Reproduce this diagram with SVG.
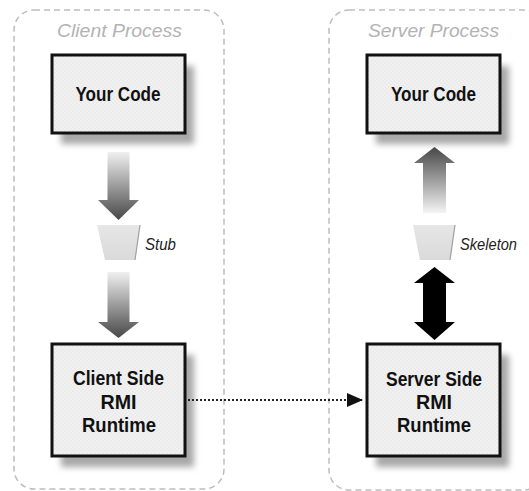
<svg xmlns="http://www.w3.org/2000/svg" width="529" height="491" viewBox="0 0 529 491">
  <style>
    .container { fill: none; stroke: #bdbdbd; stroke-width: 1.5; stroke-dasharray: 6 4; }
    .title { font-family: "Liberation Sans", Arial, sans-serif; font-style: italic; font-size: 19px; fill: #b3b3b3; text-anchor: middle; }
    .box { fill: url(#dots); stroke: #111; stroke-width: 3; }
    .shadow { fill: #a8a8a8; filter: url(#blur); }
    .label { font-family: "Liberation Sans", Arial, sans-serif; font-weight: bold; font-size: 21px; fill: #111; text-anchor: middle; }
    .small { font-family: "Liberation Sans", Arial, sans-serif; font-style: italic; font-size: 16px; fill: #222; }
    .trap { fill: url(#trapGrad); }
    .trapEdge { fill: none; stroke: #a0a0a0; stroke-width: 1.2; }
  </style>
  <defs>
    <pattern id="dots" width="4" height="4" patternUnits="userSpaceOnUse">
      <rect width="4" height="4" fill="#ebebeb"/>
      <circle cx="1" cy="1" r="0.8" fill="#fafafa"/>
      <circle cx="3" cy="3" r="0.8" fill="#fafafa"/>
    </pattern>
    <filter id="blur" x="-20%" y="-20%" width="140%" height="140%">
      <feGaussianBlur stdDeviation="3"/>
    </filter>
    <linearGradient id="downGrad" x1="0" y1="0" x2="0" y2="1">
      <stop offset="0" stop-color="#f0f0f0"/>
      <stop offset="1" stop-color="#474747"/>
    </linearGradient>
    <linearGradient id="upGrad" x1="0" y1="0" x2="0" y2="1">
      <stop offset="0" stop-color="#474747"/>
      <stop offset="1" stop-color="#f4f4f4"/>
    </linearGradient>
    <linearGradient id="trapGrad" x1="0" y1="0" x2="0" y2="1">
      <stop offset="0" stop-color="#e6e6e6"/>
      <stop offset="1" stop-color="#dadada"/>
    </linearGradient>
    <marker id="arrowHead" viewBox="0 0 16 14" refX="16" refY="7" markerWidth="16" markerHeight="14" markerUnits="userSpaceOnUse" orient="auto">
      <path d="M0,0 L16,7 L0,14 Z" fill="#111"/>
    </marker>
  </defs>

  <g id="client-process">
    <rect class="container" x="14" y="10" width="210" height="479" rx="20"/>
    <text class="title" x="119.5" y="37" textLength="125" lengthAdjust="spacingAndGlyphs">Client Process</text>
  </g>

  <g id="server-process">
    <rect class="container" x="329" y="10" width="215" height="480" rx="20"/>
    <text class="title" x="433.5" y="37" textLength="131" lengthAdjust="spacingAndGlyphs">Server Process</text>
  </g>

  <g id="client-your-code">
    <rect class="shadow" x="61" y="66" width="133" height="78"/>
    <rect class="box" x="52" y="55" width="133" height="78"/>
    <text class="label" x="118" y="101" textLength="85" lengthAdjust="spacingAndGlyphs">Your Code</text>
  </g>

  <g id="client-runtime">
    <rect class="shadow" x="61" y="355" width="133" height="112"/>
    <rect class="box" x="52" y="344" width="133" height="112"/>
    <text class="label" x="118.5" y="385" textLength="91" lengthAdjust="spacingAndGlyphs">Client Side</text>
    <text class="label" x="118.5" y="409" textLength="36" lengthAdjust="spacingAndGlyphs">RMI</text>
    <text class="label" x="119" y="432" textLength="74" lengthAdjust="spacingAndGlyphs">Runtime</text>
  </g>

  <g id="server-your-code">
    <rect class="shadow" x="376" y="66" width="133" height="78"/>
    <rect class="box" x="367" y="55" width="133" height="78"/>
    <text class="label" x="433.5" y="101" textLength="85" lengthAdjust="spacingAndGlyphs">Your Code</text>
  </g>

  <g id="server-runtime">
    <rect class="shadow" x="376" y="355" width="133" height="112"/>
    <rect class="box" x="367" y="344" width="133" height="112"/>
    <text class="label" x="434" y="386" textLength="96" lengthAdjust="spacingAndGlyphs">Server Side</text>
    <text class="label" x="434" y="409" textLength="36" lengthAdjust="spacingAndGlyphs">RMI</text>
    <text class="label" x="434" y="432" textLength="74" lengthAdjust="spacingAndGlyphs">Runtime</text>
  </g>

  <g id="stub">
    <path class="trap" d="M97,225 L140,225 L135,260 L105,260 Z"/>
    <path class="trapEdge" d="M140,225 L135,260"/>
    <text class="small" x="145" y="250" textLength="31" lengthAdjust="spacingAndGlyphs">Stub</text>
  </g>

  <g id="skeleton">
    <path class="trap" d="M413,225 L455,225 L450,260 L420,260 Z"/>
    <path class="trapEdge" d="M455,225 L450,260"/>
    <text class="small" x="460" y="250" textLength="57" lengthAdjust="spacingAndGlyphs">Skeleton</text>
  </g>

  <g id="connectors">
    <path d="M107.5,152 L129.5,152 L129.5,200 L139,200 L118.5,220 L98,200 L107.5,200 Z" fill="url(#downGrad)"/>
    <path d="M107.5,272 L129.5,272 L129.5,322 L139,322 L118.5,338 L98,322 L107.5,322 Z" fill="url(#downGrad)"/>
    <path d="M434.5,147 L455,163 L446,163 L446,213 L423,213 L423,163 L414,163 Z" fill="url(#upGrad)"/>
    <path d="M434.5,267 L455,283 L446,283 L446,322 L455,322 L434.5,340 L414,322 L423,322 L423,283 L414,283 Z" fill="#000"/>
    <line x1="188" y1="400" x2="363" y2="400" stroke="#222" stroke-width="2.2" stroke-dasharray="2 2" marker-end="url(#arrowHead)"/>
  </g>
</svg>
